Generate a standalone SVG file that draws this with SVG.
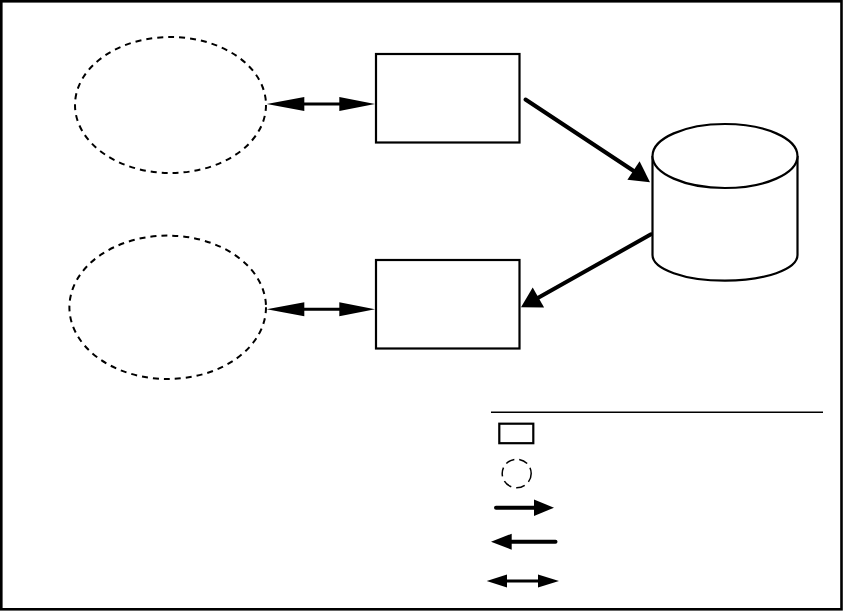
<svg xmlns="http://www.w3.org/2000/svg" width="843" height="611" viewBox="0 0 843 611">
  <style>
    .frame { fill: #ffffff; stroke: #000000; stroke-width: 2.6; }
    .box { fill: #ffffff; stroke: #000000; stroke-width: 2.2; }
    .cloud { fill: none; stroke: #000000; stroke-width: 2; stroke-dasharray: 6 5; }
    .db { fill: #ffffff; stroke: #000000; stroke-width: 2.2; }
    .line { fill: none; stroke: #000000; stroke-linecap: round; }
    .thick { stroke-width: 4; }
    .mid { stroke-width: 3; }
    .head { fill: #000000; stroke: none; }
    .rule { stroke: #000000; stroke-width: 1.5; }
  </style>
  <rect class="frame" x="1.3" y="1.3" width="840.2" height="608"/>

  <g id="client-top">
    <ellipse class="cloud" cx="170.5" cy="105" rx="95.5" ry="68"/>
  </g>
  <g id="client-bottom">
    <ellipse class="cloud" cx="167.7" cy="307.3" rx="98.3" ry="71.7"/>
  </g>
  <g id="process-top">
    <rect class="box" x="376" y="54" width="143.5" height="88.5"/>
  </g>
  <g id="process-bottom">
    <rect class="box" x="376" y="260" width="143.5" height="88.5"/>
  </g>
  <g id="database">
    <path class="db" d="M652.5,156 L652.5,255 A72.5,25.7 0 0 0 797.5,255 L797.5,156"/>
    <ellipse class="db" cx="725" cy="156" rx="72.5" ry="32"/>
  </g>

  <g id="connectors">
    <!-- top double arrow -->
    <line class="line mid" x1="300" y1="104" x2="343" y2="104"/>
    <polygon class="head" points="266.7,104 304.3,97 304.3,111"/>
    <polygon class="head" points="375,104 339.3,97 339.3,111"/>
    <!-- bottom double arrow -->
    <line class="line mid" x1="300" y1="309.3" x2="343" y2="309.3"/>
    <polygon class="head" points="266.7,309.3 304.3,302.3 304.3,316.3"/>
    <polygon class="head" points="375,309.3 339.3,302.3 339.3,316.3"/>
    <!-- process top to database -->
    <line class="line thick" x1="525.5" y1="99.5" x2="636" y2="172.5"/>
    <polygon class="head" points="650,182.3 627.4,179.7 639.6,161.3"/>
    <!-- database to process bottom -->
    <line class="line thick" x1="651" y1="234.3" x2="536" y2="299"/>
    <polygon class="head" points="521,307.3 544.1,307.6 532.7,287.4"/>
  </g>

  <g id="legend">
    <line class="rule" x1="491" y1="412.3" x2="823" y2="412.3"/>
    <rect class="box" x="499.3" y="423.7" width="34" height="19.5"/>
    <ellipse class="cloud" cx="516.7" cy="473.5" rx="14.5" ry="14.3" style="stroke-width:1.5;stroke-dasharray:9 5"/>
    <line class="line thick" x1="496" y1="507.7" x2="537" y2="507.7"/>
    <polygon class="head" points="554,507.7 534,499.4 534,516"/>
    <line class="line thick" x1="508" y1="541.7" x2="555.5" y2="541.7"/>
    <polygon class="head" points="491,541.7 511.7,533.7 511.7,549.7"/>
    <line class="line mid" x1="505" y1="581" x2="540" y2="581"/>
    <polygon class="head" points="486.7,581 507,574.5 507,587.5"/>
    <polygon class="head" points="559,581 538,574.5 538,587.5"/>
  </g>
</svg>
